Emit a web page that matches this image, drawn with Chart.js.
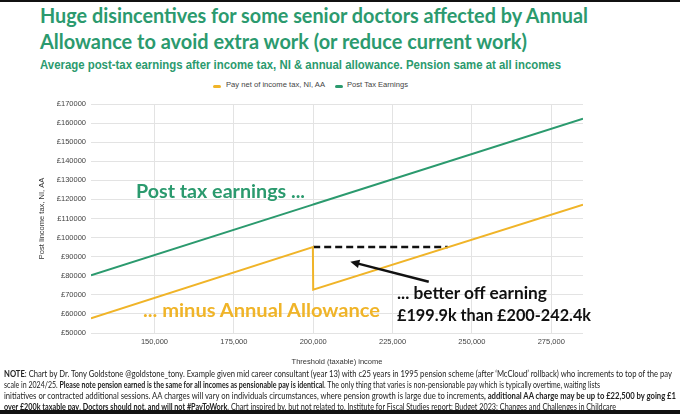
<!DOCTYPE html>
<html lang="en">
<head>
<meta charset="UTF-8">
<meta name="viewport" content="width=device-width, initial-scale=1.0">
<title>Annual Allowance disincentive</title>
<script src="https://cdn.jsdelivr.net/npm/chart.js"></script>
<style>
    body {
        margin: 0;
        width: 680px;
        height: 414px;
        overflow: hidden;
        position: relative;
        background: #ffffff;
        font-family: Lato, 'Open Sans', sans-serif;
    }

    .bar-top { position: absolute; left: 0; top: 0; width: 680px; height: 2px; background: #111; }
    .bar-bottom { position: absolute; left: 0; top: 410px; width: 680px; height: 4px; background: #111; }

    .chart-box { position: absolute; left: 0; top: 0; width: 680px; height: 414px; }

    .txt {
        position: absolute;
        white-space: nowrap;
        line-height: 1;
        transform-origin: 0 0;
    }

    .title { color: #2b9a6e; font-weight: 700; font-size: 20px; }
    .subtitle { color: #2b9a6e; font-weight: 700; font-size: 12.5px; font-family: 'Liberation Sans', Arial, sans-serif; }
    .legend { color: #444; font-size: 8px; font-family: 'Liberation Sans', Arial, sans-serif; }
    .swatch { position: absolute; width: 8px; height: 3px; border-radius: 1.5px; }
    .note-green { color: #2b9a6e; font-weight: 700; font-size: 18px; }
    .note-orange { color: #f0b428; font-weight: 700; font-size: 19px; }
    .note-black { color: #111; font-weight: 700; font-size: 17px; }
    .foot { color: #222; font-size: 8.8px; }
</style>
</head>
<body>
    <div class="bar-top"></div>

    <div class="txt title" style="left:40px; top:5px" data-w="548">Huge disincentives for some senior doctors affected by Annual</div>
    <div class="txt title" style="left:40px; top:31px" data-w="487">Allowance to avoid extra work (or reduce current work)</div>
    <div class="txt subtitle" style="left:40px; top:59px" data-w="521">Average post-tax earnings after income tax, NI &amp; annual allowance. Pension same at all incomes</div>

    <!-- legend -->
    <div class="swatch" style="left:213px; top:85px; background:#f0b428"></div>
    <div class="txt legend" style="left:226px; top:81px" data-w="99">Pay net of income tax, NI, AA</div>
    <div class="swatch" style="left:335px; top:85px; background:#2b9a6e"></div>
    <div class="txt legend" style="left:347px; top:81px" data-w="61">Post Tax Earnings</div>

    <div class="chart-box">
        <canvas id="aaChart"></canvas>
    </div>

    <!-- annotations -->
    <div class="txt note-green" style="left:136px; top:182px" data-w="169">Post tax earnings ...</div>
    <div class="txt note-orange" style="left:143px; top:300px" data-w="237">... minus Annual Allowance</div>
    <div class="txt note-black" style="left:397px; top:284px" data-w="150">... better off earning</div>
    <div class="txt note-black" style="left:397px; top:306px" data-w="194">£199.9k than £200-242.4k</div>

    <!-- footnote -->
    <div class="txt foot" style="left:4px; top:369.5px" data-w="668"><b>NOTE</b>: Chart by Dr. Tony Goldstone @goldstone_tony. Example given mid career consultant (year 13) with c25 years in 1995 pension scheme (after ‘McCloud’ rollback) who increments to top of the pay</div>
    <div class="txt foot" style="left:4px; top:380.7px" data-w="596">scale in 2024/25. <b>Please note pension earned is the same for all incomes as pensionable pay is identical</b>. The only thing that varies is non-pensionable pay which is typically overtime, waiting lists</div>
    <div class="txt foot" style="left:4px; top:391.9px" data-w="672">initiatives or contracted additional sessions. AA charges will vary on individuals circumstances, where pension growth is large due to increments<b>, additional AA charge may be up to £22,500 by going £1</b></div>
    <div class="txt foot" style="left:4px; top:403.1px" data-w="612"><b>over £200k taxable pay</b>. <b>Doctors should not, and will not #PayToWork</b>. Chart inspired by, but not related to, Institute for Fiscal Studies report: Budget 2023; Changes and Challenges in Childcare</div>

    <div class="bar-bottom"></div>

    <script>
        // Threshold (taxable) income at the points where the lines change
        const incomes = [130000, 199900, 200000, 285000];
        const payNetOfAA = [57650, 95050, 72700, 117230];
        const postTaxEarnings = [80200, 117270, 117320, 162300];

        // dashed "same pay" level and the arrow pointing at it
        const dashIncomes = [200000, 242400];
        const dashLevel = [95050, 95050];
        const arrowTail = [236400, 76900];
        const arrowHead = [211700, 87400];

        const xTicks = [150000, 175000, 200000, 225000, 250000, 275000];
        const yTicks = [50000, 60000, 70000, 80000, 90000, 100000, 110000, 120000, 130000, 140000, 150000, 160000, 170000];

        const green = '#2b9a6e';
        const orange = '#f0b428';

        function points(xs, ys) {
            return xs.map((x, i) => ({ x: x, y: ys[i] }));
        }

        const arrowPlugin = {
            id: 'arrow',
            afterDatasetsDraw(chart) {
                const { ctx, scales: { x, y } } = chart;
                const x1 = x.getPixelForValue(arrowTail[0]);
                const y1 = y.getPixelForValue(arrowTail[1]);
                const x2 = x.getPixelForValue(arrowHead[0]);
                const y2 = y.getPixelForValue(arrowHead[1]);
                const ang = Math.atan2(y2 - y1, x2 - x1);
                const len = 10;
                ctx.save();
                ctx.strokeStyle = '#111';
                ctx.fillStyle = '#111';
                ctx.lineWidth = 2.5;
                ctx.beginPath();
                ctx.moveTo(x1, y1);
                ctx.lineTo(x2 - Math.cos(ang) * 6, y2 - Math.sin(ang) * 6);
                ctx.stroke();
                ctx.beginPath();
                ctx.moveTo(x2, y2);
                ctx.lineTo(x2 - len * Math.cos(ang - 0.45), y2 - len * Math.sin(ang - 0.45));
                ctx.lineTo(x2 - len * Math.cos(ang + 0.45), y2 - len * Math.sin(ang + 0.45));
                ctx.closePath();
                ctx.fill();
                ctx.restore();
            }
        };

        const tickFont = { family: "'Liberation Sans', Arial, sans-serif", size: 7.5 };

        new Chart(document.getElementById('aaChart'), {
            type: 'line',
            data: {
                datasets: [
                    {
                        label: 'Pay net of income tax, NI, AA',
                        data: points(incomes, payNetOfAA),
                        borderColor: orange,
                        backgroundColor: orange,
                        borderWidth: 2,
                        pointRadius: 0,
                        tension: 0
                    },
                    {
                        label: 'Post Tax Earnings',
                        data: points(incomes, postTaxEarnings),
                        borderColor: green,
                        backgroundColor: green,
                        borderWidth: 2,
                        pointRadius: 0,
                        tension: 0
                    },
                    {
                        label: 'same pay',
                        data: points(dashIncomes, dashLevel),
                        borderColor: '#111',
                        borderWidth: 2.5,
                        borderDash: [7, 4],
                        pointRadius: 0,
                        tension: 0
                    }
                ]
            },
            options: {
                responsive: true,
                maintainAspectRatio: false,
                animation: false,
                layout: { padding: { left: 37, right: 97, top: 104, bottom: 44 } },
                plugins: {
                    legend: { display: false },
                    tooltip: { enabled: false }
                },
                scales: {
                    x: {
                        type: 'linear',
                        min: 130000,
                        max: 285000,
                        afterFit: (s) => { s.height = 37; },
                        afterBuildTicks: (s) => { s.ticks = xTicks.map(v => ({ value: v })); },
                        border: { display: false },
                        grid: { color: '#e3e3e3', drawTicks: false },
                        ticks: {
                            padding: 4,
                            color: '#444',
                            font: tickFont,
                            callback: (v) => v.toLocaleString('en-GB')
                        },
                        title: {
                            display: true,
                            text: 'Threshold (taxable) income',
                            color: '#333',
                            font: tickFont,
                            padding: { top: 4, bottom: 4 }
                        }
                    },
                    y: {
                        min: 50000,
                        max: 170000,
                        afterFit: (s) => { s.width = 54; },
                        afterBuildTicks: (s) => { s.ticks = yTicks.map(v => ({ value: v })); },
                        border: { display: false },
                        grid: { color: '#e3e3e3', drawTicks: false },
                        ticks: {
                            padding: 5,
                            color: '#444',
                            font: tickFont,
                            callback: (v) => '£' + v
                        },
                        title: {
                            display: true,
                            text: 'Post Iincome tax, NI, AA',
                            color: '#333',
                            font: tickFont,
                            padding: { top: 0, bottom: 0 }
                        }
                    }
                }
            },
            plugins: [arrowPlugin]
        });

        // squeeze each text line to the width it has in the original
        function fitText() {
            document.querySelectorAll('[data-w]').forEach(el => {
                el.style.transform = 'none';
                const w = el.getBoundingClientRect().width;
                el.style.transform = 'scaleX(' + (el.dataset.w / w) + ')';
            });
        }
        fitText();
        if (document.fonts && document.fonts.ready) document.fonts.ready.then(fitText);
    </script>
</body>
</html>
